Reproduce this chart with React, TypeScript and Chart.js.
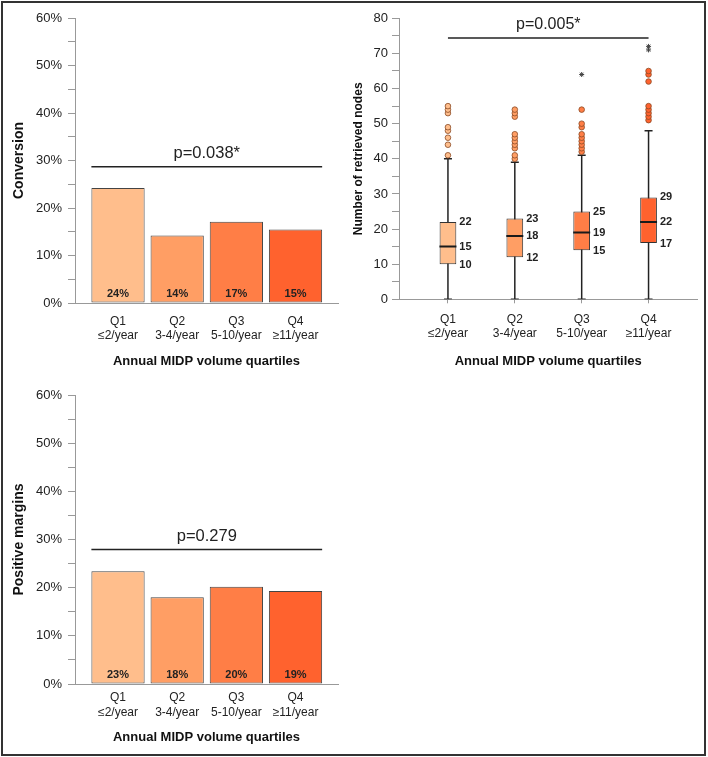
import { useEffect, useRef } from "react";
import { Chart, registerables, type ChartConfiguration, type Plugin } from "chart.js";

Chart.register(...registerables);

const FONT = '"Liberation Sans", Arial, Helvetica, sans-serif';
Chart.defaults.font.family = FONT;
Chart.defaults.color = "#222";

// categories
const QUARTILES = ["Q1", "Q2", "Q3", "Q4"];
const RANGES = ["≤2/year", "3-4/year", "5-10/year", "≥11/year"];
const COLORS = ["#FFBE8C", "#FF9E64", "#FF7E46", "#FF622E"];
const AXIS_TITLE = "Annual MIDP volume quartiles";

// conversion (%)
const CONVERSION = [24.2, 14.2, 17.1, 15.5];
const CONVERSION_LABELS = ["24%", "14%", "17%", "15%"];
const CONVERSION_P = "p=0.038*";
const CONVERSION_P_LEVEL = 28.7;

// positive margins (%)
const MARGINS = [23.4, 18.0, 20.2, 19.3];
const MARGINS_LABELS = ["23%", "18%", "20%", "19%"];
const MARGINS_P = "p=0.279";
const MARGINS_P_LEVEL = 27.9;

// retrieved nodes (box plot)
const NODES_MIN = [0, 0, 0, 0];
const NODES_Q1 = [10, 12, 14, 16];
const NODES_MEDIAN = [15, 18, 19, 22];
const NODES_Q3 = [22, 23, 25, 29];
const NODES_MAX = [40, 39, 41, 48];
const NODES_LABEL_Q1 = ["10", "12", "15", "17"];
const NODES_LABEL_MEDIAN = ["15", "18", "19", "22"];
const NODES_LABEL_Q3 = ["22", "23", "25", "29"];
const NODES_OUTLIERS = [
  [41, 44, 46, 48, 49, 53, 54, 55],
  [40, 41, 43, 44, 45, 46, 47, 52, 53, 54],
  [42, 43, 44, 45, 46, 47, 49, 50, 54],
  [51, 52, 53, 54, 55, 62, 64, 65],
];
const NODES_EXTREMES = [[], [], [64], [71, 72]];
const NODES_P = "p=0.005*";
const NODES_P_LEVEL = 74.4;

type Geom = { top: number; right: number; yWidth: number; xHeight: number; tickPad: number; titlePad: number };

function pValuePlugin(text: string, level: number, size: number, edges: boolean): Plugin {
  return {
    id: "pvalue",
    afterDatasetsDraw(chart) {
      const { ctx, scales } = chart;
      const y = scales.y.getPixelForValue(level);
      let x0 = scales.x.getPixelForValue(0);
      let x1 = scales.x.getPixelForValue(QUARTILES.length - 1);
      if (edges) {
        const bars = chart.getDatasetMeta(0).data as any[];
        const last = bars[bars.length - 1];
        x0 = bars[0].x - bars[0].width / 2;
        x1 = last.x + last.width / 2;
      }
      ctx.save();
      ctx.strokeStyle = "#222";
      ctx.lineWidth = 1.5;
      ctx.beginPath();
      ctx.moveTo(x0, y);
      ctx.lineTo(x1, y);
      ctx.stroke();
      ctx.fillStyle = "#222";
      ctx.font = `${size}px ${FONT}`;
      ctx.textAlign = "center";
      ctx.textBaseline = "middle";
      ctx.fillText(text, (x0 + x1) / 2, y - 13);
      ctx.restore();
    },
  };
}

function barLabelPlugin(labels: string[]): Plugin {
  return {
    id: "barlabels",
    afterDatasetsDraw(chart) {
      const { ctx, scales } = chart;
      const base = scales.y.getPixelForValue(0);
      const bars = chart.getDatasetMeta(0).data as any[];
      ctx.save();
      ctx.fillStyle = "#222";
      ctx.font = `bold 11px ${FONT}`;
      ctx.textAlign = "center";
      ctx.textBaseline = "middle";
      bars.forEach((b, i) => ctx.fillText(labels[i], b.x, base - 9));
      ctx.restore();
    },
  };
}

const boxLabelPlugin: Plugin = {
  id: "boxlabels",
  afterDatasetsDraw(chart) {
    const { ctx, scales } = chart;
    const meta = chart.data.datasets.findIndex((d: any) => d.type === "bar");
    const boxes = chart.getDatasetMeta(meta).data as any[];
    ctx.save();
    ctx.fillStyle = "#222";
    ctx.font = `bold 11px ${FONT}`;
    ctx.textAlign = "left";
    ctx.textBaseline = "middle";
    boxes.forEach((b, i) => {
      const x = b.x + b.width / 2 + 3;
      ctx.fillText(NODES_LABEL_Q3[i], x, scales.y.getPixelForValue(NODES_Q3[i]));
      ctx.fillText(NODES_LABEL_MEDIAN[i], x, scales.y.getPixelForValue(NODES_MEDIAN[i]));
      ctx.fillText(NODES_LABEL_Q1[i], x, scales.y.getPixelForValue(NODES_Q1[i]) + 1);
    });
    ctx.restore();
  },
};

function xAxis(geom: Geom, min: number, max: number, ticks: boolean) {
  return {
    type: "linear" as const,
    min,
    max,
    offset: false,
    afterBuildTicks: (s: any) => {
      s.ticks = QUARTILES.map((_, i) => ({ value: i }));
    },
    afterFit: (s: any) => {
      s.height = geom.xHeight;
    },
    ticks: {
      autoSkip: false,
      maxRotation: 0,
      minRotation: 0,
      padding: geom.tickPad,
      font: { size: 12 },
      callback: (v: any) => [QUARTILES[Number(v)], RANGES[Number(v)]],
    },
    grid: {
      display: ticks,
      offset: false,
      drawOnChartArea: false,
      drawTicks: ticks,
      tickLength: 4,
      tickColor: "#999",
    },
    border: { display: true, color: "#999", width: 1 },
    title: {
      display: true,
      text: AXIS_TITLE,
      color: "#111",
      font: { size: 13, weight: "bold" as const },
      padding: { top: 4, bottom: geom.titlePad },
    },
  };
}

function yAxis(geom: Geom, max: number, title: string, titleSize: number, titlePad: number, pct: boolean, labelPad: number) {
  return {
    min: 0,
    max,
    afterFit: (s: any) => {
      s.width = geom.yWidth;
    },
    ticks: {
      stepSize: 5,
      autoSkip: false,
      padding: labelPad,
      font: { size: 13 },
      callback: (v: any) => (Number(v) % 10 === 0 ? `${v}${pct ? "%" : ""}` : ""),
    },
    grid: { display: true, drawOnChartArea: false, drawTicks: true, tickLength: 7, tickColor: "#999" },
    border: { display: true, color: "#999", width: 1 },
    title: {
      display: true,
      text: title,
      color: "#111",
      font: { size: titleSize, weight: "bold" as const },
      padding: { top: titlePad, bottom: 0 },
    },
  };
}

function barConfig(values: number[], labels: string[], yTitle: string, pText: string, pLevel: number, geom: Geom): ChartConfiguration {
  return {
    type: "bar",
    data: {
      datasets: [
        {
          data: values.map((v, i) => ({ x: i, y: v })),
          backgroundColor: COLORS,
          borderColor: "#444",
          borderWidth: 1,
          borderSkipped: false,
          barPercentage: 0.9,
          categoryPercentage: 1,
        } as any,
      ],
    },
    options: {
      responsive: true,
      maintainAspectRatio: false,
      animation: false,
      layout: { padding: { top: geom.top, right: geom.right, left: 0, bottom: 0 } },
      plugins: { legend: { display: false }, tooltip: { enabled: false } },
      scales: {
        x: xAxis(geom, -0.727, 3.718, false),
        y: yAxis(geom, 60, yTitle, 14, 11, true, 6),
      } as any,
    },
    plugins: [barLabelPlugin(labels), pValuePlugin(pText, pLevel, 16.5, true)],
  };
}

function boxConfig(geom: Geom): ChartConfiguration {
  const whiskers = QUARTILES.flatMap((_, i) => [
    { x: i, y: NODES_MIN[i] },
    { x: i, y: NODES_MAX[i] },
    { x: i, y: null },
  ]);
  const caps = QUARTILES.flatMap((_, i) => [
    { x: i, y: NODES_MIN[i] },
    { x: i, y: NODES_MAX[i] },
  ]);
  const outliers = NODES_OUTLIERS.flatMap((list, i) => list.map((y) => ({ x: i, y })));
  const extremes = NODES_EXTREMES.flatMap((list, i) => list.map((y) => ({ x: i, y })));
  return {
    type: "bar",
    data: {
      datasets: [
        {
          type: "line",
          data: whiskers,
          borderColor: "#222",
          borderWidth: 1.5,
          pointRadius: 0,
          spanGaps: false,
          order: 5,
        },
        {
          type: "line",
          data: caps,
          showLine: false,
          pointStyle: "line",
          pointRadius: 4,
          pointBorderColor: "#222",
          pointBorderWidth: 1.5,
          order: 5,
        },
        {
          type: "bar",
          data: QUARTILES.map((_, i) => ({ x: i, y: [NODES_Q1[i], NODES_Q3[i]] })),
          backgroundColor: COLORS,
          borderColor: "#333",
          borderWidth: 1,
          borderSkipped: false,
          barPercentage: 0.25,
          categoryPercentage: 1,
          order: 4,
        },
        {
          type: "line",
          data: QUARTILES.map((_, i) => ({ x: i, y: NODES_MEDIAN[i] })),
          showLine: false,
          pointStyle: "line",
          pointRadius: 8.5,
          pointBorderColor: "#1a1a1a",
          pointBorderWidth: 2,
          order: 3,
        },
        {
          type: "line",
          data: outliers,
          showLine: false,
          pointStyle: "circle",
          pointRadius: 2.8,
          pointBackgroundColor: (ctx: any) => COLORS[ctx.raw?.x ?? 0],
          pointBorderColor: "#8a4a25",
          pointBorderWidth: 0.8,
          order: 2,
        },
        {
          type: "line",
          data: extremes,
          showLine: false,
          pointStyle: "star",
          pointRadius: 2.5,
          pointBorderColor: "#444",
          pointBorderWidth: 1,
          order: 1,
        },
      ] as any,
    },
    options: {
      responsive: true,
      maintainAspectRatio: false,
      animation: false,
      layout: { padding: { top: geom.top, right: geom.right, left: 0, bottom: 0 } },
      plugins: { legend: { display: false }, tooltip: { enabled: false } },
      scales: {
        x: xAxis(geom, -0.732, 3.732, true),
        y: yAxis(geom, 80, "Number of retrieved nodes", 12, 6, false, 4),
      } as any,
    },
    plugins: [boxLabelPlugin, pValuePlugin(NODES_P, NODES_P_LEVEL, 16, false)],
  };
}

function Panel({ config, left, top, width, height }: { config: ChartConfiguration; left: number; top: number; width: number; height: number }) {
  const canvasRef = useRef<HTMLCanvasElement>(null);
  useEffect(() => {
    if (!canvasRef.current) return;
    const chart = new Chart(canvasRef.current, config);
    return () => chart.destroy();
  }, [config]);
  return (
    <div style={{ position: "absolute", left, top, width, height }}>
      <canvas ref={canvasRef} />
    </div>
  );
}

const conversionConfig = barConfig(CONVERSION, CONVERSION_LABELS, "Conversion", CONVERSION_P, CONVERSION_P_LEVEL, {
  top: 18, right: 7, yWidth: 75, xHeight: 75, tickPad: 11.5, titlePad: 9,
});
const nodesConfig = boxConfig({ top: 18.3, right: 6, yWidth: 54, xHeight: 78.7, tickPad: 8.8, titlePad: 9 });
const marginsConfig = barConfig(MARGINS, MARGINS_LABELS, "Positive margins", MARGINS_P, MARGINS_P_LEVEL, {
  top: 18, right: 7, yWidth: 75, xHeight: 73, tickPad: 6.8, titlePad: 11.5,
});

export default function App() {
  return (
    <div style={{ position: "absolute", left: 0, top: 0, width: 708, height: 757, background: "#fff" }}>
      <Panel config={conversionConfig} left={0} top={0} width={345} height={378} />
      <Panel config={nodesConfig} left={345} top={0} width={363} height={378} />
      <Panel config={marginsConfig} left={0} top={377} width={345} height={380} />
      <div
        style={{
          position: "absolute",
          left: 1,
          top: 1,
          width: 705,
          height: 755,
          border: "2px solid #333",
          boxSizing: "border-box",
          pointerEvents: "none",
        }}
      />
    </div>
  );
}
